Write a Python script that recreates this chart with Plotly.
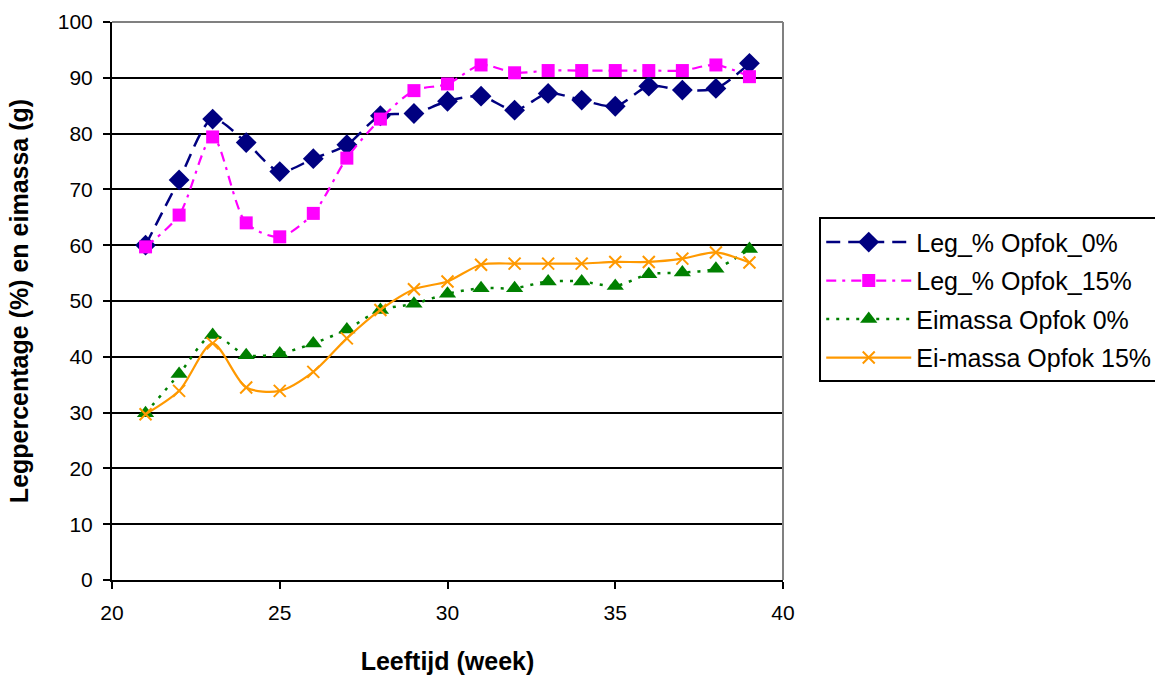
import plotly.graph_objects as go

weeks = list(range(21, 40))

leg_opfok_0 = [60.0, 71.7, 82.6, 78.4, 73.2, 75.5, 78.0, 83.2, 83.6, 85.8, 86.7, 84.2, 87.2, 86.0, 84.9, 88.5, 87.8, 88.1, 92.6]
leg_opfok_15 = [59.7, 65.4, 79.4, 64.0, 61.5, 65.7, 75.6, 82.6, 87.7, 88.9, 92.3, 90.9, 91.3, 91.3, 91.3, 91.3, 91.3, 92.3, 90.2]
eimassa_0 = [29.9, 36.9, 43.9, 40.3, 40.6, 42.4, 44.9, 48.4, 49.5, 51.3, 52.3, 52.3, 53.5, 53.5, 52.7, 54.8, 55.1, 55.8, 59.3]
eimassa_15 = [29.7, 33.9, 42.4, 34.5, 33.9, 37.3, 43.3, 48.4, 52.1, 53.5, 56.5, 56.7, 56.7, 56.7, 57.0, 57.0, 57.6, 58.7, 56.9]

series_names = ["Leg_% Opfok_0%", "Leg_% Opfok_15%", "Eimassa Opfok 0%", "Ei-massa Opfok 15%"]

x_ticks = [20, 25, 30, 35, 40]
y_ticks = [0, 10, 20, 30, 40, 50, 60, 70, 80, 90, 100]

FONT = "Liberation Sans, Arial, sans-serif"
SM = 0.8

fig = go.Figure()
fig.add_trace(go.Scatter(
    x=weeks, y=leg_opfok_0, name=series_names[0], mode="lines+markers", legendgroup="a",
    line=dict(color="#000080", width=2.5, dash="14px,8px", shape="spline", smoothing=SM),
    marker=dict(symbol="diamond", size=16, color="#000080"),
))
fig.add_trace(go.Scatter(
    x=weeks, y=leg_opfok_15, name=series_names[1], mode="lines+markers", legendgroup="b",
    line=dict(color="#FF00FF", width=2.2, dash="10px,6px,3px,6px", shape="spline", smoothing=SM),
    marker=dict(symbol="square", size=13, color="#FF00FF"),
))
fig.add_trace(go.Scatter(
    x=weeks, y=eimassa_0, name=series_names[2], mode="lines+markers", legendgroup="c",
    line=dict(color="#008000", width=2.5, dash="3px,7px", shape="spline", smoothing=SM),
    marker=dict(symbol="triangle-up", size=15, color="#008000"),
))
fig.add_trace(go.Scatter(
    x=weeks, y=eimassa_15, name=series_names[3], mode="lines+markers", legendgroup="d",
    line=dict(color="#FF9900", width=2.2, shape="spline", smoothing=SM),
    marker=dict(symbol="x-thin", size=12, color="#FF9900", line=dict(color="#FF9900", width=2)),
))

fig.update_layout(
    width=1155, height=675,
    margin=dict(l=112, r=372, t=22, b=95, autoexpand=False),
    paper_bgcolor="white", plot_bgcolor="white",
    font=dict(family=FONT, size=21, color="black"),
    showlegend=True,
    legend=dict(
        x=1.054, y=0.65, xanchor="left", yanchor="top",
        bordercolor="black", borderwidth=2, bgcolor="white",
        font=dict(family=FONT, size=25, color="black"),
        itemwidth=85, tracegroupgap=3,
    ),
    xaxis=dict(
        range=[20, 40], tickvals=x_ticks, ticktext=[str(v) for v in x_ticks],
        showgrid=False, zeroline=False, automargin=False,
        showline=True, linecolor="black", linewidth=2,
        ticks="outside", ticklen=7, tickwidth=2, tickcolor="black",
        tickfont=dict(family=FONT, size=21), ticklabelstandoff=6,
        title=dict(text="<b>Leeftijd (week)</b>", font=dict(family=FONT, size=25), standoff=30),
    ),
    yaxis=dict(
        range=[0, 100], tickvals=y_ticks, ticktext=[str(v) for v in y_ticks],
        showgrid=True, gridcolor="black", gridwidth=2, zeroline=False, automargin=False,
        showline=True, linecolor="black", linewidth=2,
        ticks="outside", ticklen=7, tickwidth=2, tickcolor="black",
        tickfont=dict(family=FONT, size=21), ticklabelstandoff=6,
        title=dict(text="<b>Legpercentage (%) en eimassa (g)</b>", font=dict(family=FONT, size=25), standoff=22),
    ),
)

# grey plot-area border on top and right
fig.add_shape(type="line", xref="paper", yref="paper", x0=0, x1=1, y0=1, y1=1,
              line=dict(color="#808080", width=2), layer="above")
fig.add_shape(type="line", xref="paper", yref="paper", x0=1, x1=1, y0=0, y1=1,
              line=dict(color="#808080", width=2), layer="above")

fig.write_html("out.html", config={"displayModeBar": False},
               post_script="document.body.style.margin='0';")
